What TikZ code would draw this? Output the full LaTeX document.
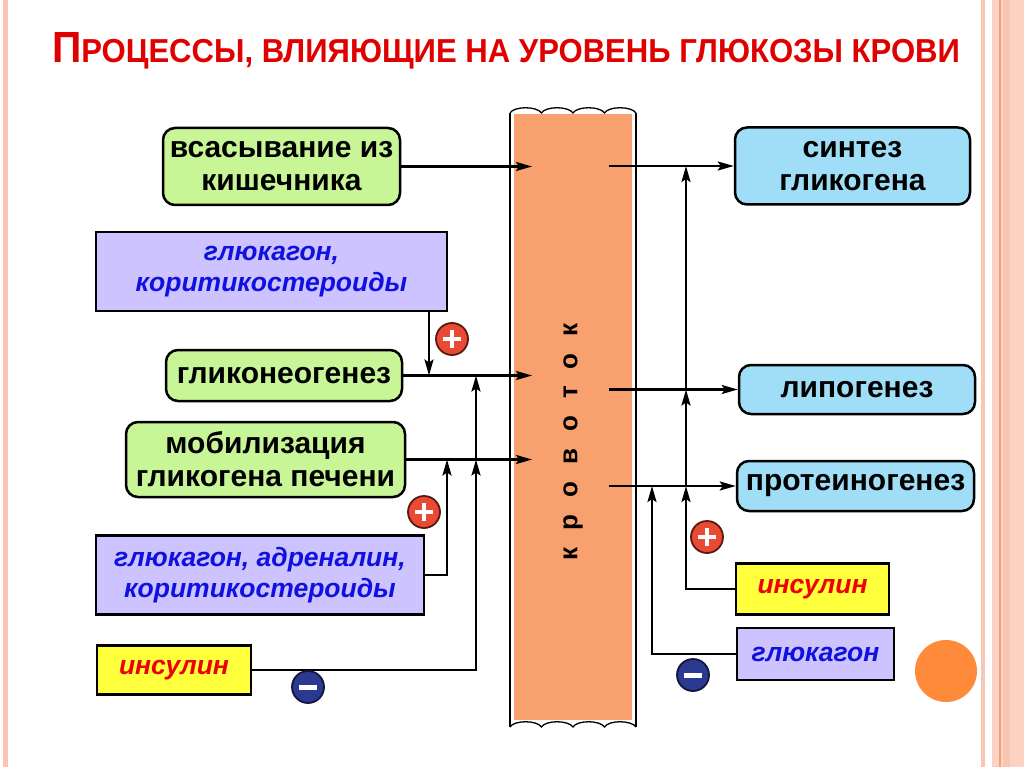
\documentclass[tikz,border=0pt]{standalone}
\usepackage{fontspec}
\setmainfont{Liberation Sans}
\usetikzlibrary{arrows.meta}
\definecolor{greenfill}{RGB}{200,245,150}
\definecolor{bluefill}{RGB}{160,222,248}
\definecolor{purplefill}{RGB}{205,195,254}
\definecolor{yellowfill}{RGB}{255,255,60}
\definecolor{colfill}{RGB}{249,160,111}
\definecolor{textblue}{RGB}{16,16,224}
\definecolor{textred}{RGB}{240,0,0}
\definecolor{titlered}{RGB}{224,0,0}
\definecolor{plusred}{RGB}{232,74,51}
\definecolor{plusdark}{RGB}{90,26,16}
\definecolor{minusblue}{RGB}{43,57,144}
\definecolor{minusdark}{RGB}{20,20,60}
\definecolor{borderpink}{RGB}{249,198,180}
\definecolor{borderlight}{RGB}{252,211,195}
\definecolor{borderorange}{RGB}{242,160,126}
\definecolor{dotorange}{RGB}{255,138,58}
\begin{document}
\begin{tikzpicture}[x=1pt,y=-1pt,
  proc/.style={draw=black, line width=2.5pt, rounded corners=12pt, align=center,
    font=\fontsize{30}{33}\selectfont\bfseries, inner sep=0pt},
  inproc/.style={proc, fill=greenfill},
  outproc/.style={proc, fill=bluefill},
  horm/.style={draw=black, line width=2.5pt, fill=purplefill, align=center, inner sep=0pt,
    font=\fontsize{26.5}{31}\selectfont\bfseries\itshape, text=textblue},
  insl/.style={draw=black, line width=2.5pt, fill=yellowfill, align=center, inner sep=0pt,
    font=\fontsize{26.5}{31}\selectfont\bfseries\itshape, text=textred},
  conn/.style={line width=2.4pt, -{Stealth[length=16pt,width=9pt,inset=3pt]}},
  plusc/.style={circle, fill=plusred, draw=plusdark, line width=1.8pt, minimum size=32pt, inner sep=0pt,
    path picture={
      \draw[white, line width=4.5pt] ([xshift=-9pt]path picture bounding box.center) -- ([xshift=9pt]path picture bounding box.center);
      \draw[white, line width=4.5pt] ([yshift=-9pt]path picture bounding box.center) -- ([yshift=9pt]path picture bounding box.center);}},
  minusc/.style={circle, fill=minusblue, draw=minusdark, line width=1.8pt, minimum size=32pt, inner sep=0pt,
    path picture={
      \draw[white, line width=5pt] ([xshift=-9pt]path picture bounding box.center) -- ([xshift=9pt]path picture bounding box.center);}}
]
\useasboundingbox (0,0) rectangle (1024,767);
\fill[white] (0,0) rectangle (1024,767);
% borders
\fill[borderpink] (3,0) rectangle (8,767);
\fill[borderpink] (981,0) rectangle (985,767);
\fill[borderlight] (992,0) rectangle (1024,767);
\fill[borderpink] (1003,0) rectangle (1010,767);
\draw[borderorange, line width=1.5pt] (1000,0) -- (1000,767);
\fill[dotorange] (946,671) circle (31);

% title
\node[anchor=base, text=titlered, inner sep=0pt] (title) at (506,63)
  {\resizebox{908pt}{30pt}{\bfseries\fontsize{42}{42}\selectfont П\fontsize{32}{32}\selectfont РОЦЕССЫ, ВЛИЯЮЩИЕ НА УРОВЕНЬ ГЛЮКОЗЫ КРОВИ}};

% bloodstream column
\fill[colfill] (514,114) rectangle (632,720);
\draw[line width=1.8pt] (510,113) -- (510,727);
\draw[line width=1.8pt] (636,113) -- (636,727);
\draw[line width=1.3pt] (510,113)
  .. controls (514,106) and (537,106) .. (541.5,113)
  .. controls (545.5,106) and (568.5,106) .. (573,113)
  .. controls (577,106) and (600,106) .. (604.5,113)
  .. controls (608.5,106) and (631.5,106) .. (636,113);
\draw[line width=1.3pt] (510,727)
  .. controls (514,720) and (537,720) .. (541.5,727)
  .. controls (545.5,720) and (568.5,720) .. (573,727)
  .. controls (577,720) and (600,720) .. (604.5,727)
  .. controls (608.5,720) and (631.5,720) .. (636,727);
\node[rotate=90, inner sep=0pt, font=\fontsize{26}{26}\selectfont\bfseries] (flow) at (573,442)
  {к\hspace{17pt}р\hspace{17pt}о\hspace{17pt}в\hspace{17pt}о\hspace{17pt}т\hspace{17pt}о\hspace{17pt}к};

% left nodes
\node[inproc, minimum width=237pt, minimum height=77pt] (absorb) at (281.5,166.5) {всасывание из\\кишечника};
\node[horm, minimum width=351pt, minimum height=79pt] (hormA) at (271.5,271.5) {глюкагон,\\коритикостероиды};
\node[inproc, minimum width=236pt, minimum height=51pt] (glyco) at (284,375.5) {гликонеогенез};
\node[inproc, minimum width=279pt, minimum height=75pt] (mobil) at (265.5,459.5) {мобилизация\\гликогена печени};
\node[horm, minimum width=328pt, minimum height=79pt] (hormB) at (260,575) {глюкагон, адреналин,\\коритикостероиды};
\node[insl, minimum width=154pt, minimum height=49pt] (insA) at (174,670) {инсулин};

% right nodes
\node[outproc, minimum width=235pt, minimum height=77pt] (synth) at (852.5,166) {синтез\\гликогена};
\node[outproc, minimum width=236pt, minimum height=49pt] (lipo) at (857,389.5) {липогенез};
\node[outproc, minimum width=237pt, minimum height=50pt] (prot) at (855.5,486) {протеиногенез};
\node[insl, minimum width=153pt, minimum height=51pt] (insB) at (812.5,589) {инсулин};
\node[horm, minimum width=157pt, minimum height=52pt] (glucB) at (815.5,654) {глюкагон};

% helper coordinates
\coordinate (inL) at (532,0);
\coordinate (outR) at (609,0);
\coordinate (va) at (429,0);
\coordinate (vb) at (447,0);
\coordinate (vc) at (476,0);
\coordinate (vd) at (686,0);
\coordinate (ve) at (652,0);

% connectors into the bloodstream
\draw[conn] (absorb.east) -- (absorb.east -| inL);
\draw[conn] (glyco.east) -- (glyco.east -| inL);
\draw[conn] (mobil.east) -- (mobil.east -| inL);
\draw[conn] (hormA.south -| va) -- (va |- glyco.east);
\draw[conn] (hormB.east) -| (vb |- mobil.east);
\draw[conn] (insA.east) -| (vc |- mobil.east);
\draw[conn] (vc |- mobil.east) -- (vc |- glyco.east);

% connectors out of the bloodstream
\draw[conn] (outR |- synth.west) -- (synth.west);
\draw[conn] (outR |- lipo.west) -- (lipo.west);
\draw[conn] (outR |- prot.west) -- (prot.west);
\draw[conn] (insB.west) -| (vd |- prot.west);
\draw[conn] (vd |- prot.west) -- (vd |- lipo.west);
\draw[conn] (vd |- lipo.west) -- (vd |- synth.west);
\draw[conn] (glucB.west) -| (ve |- prot.west);

% signs
\node[plusc] (p1) at (452,339) {};
\node[plusc] (p2) at (424,512) {};
\node[plusc] (p3) at (707,537) {};
\node[minusc] (m1) at (308,687) {};
\node[minusc] (m2) at (693,675) {};
\end{tikzpicture}
\end{document}
